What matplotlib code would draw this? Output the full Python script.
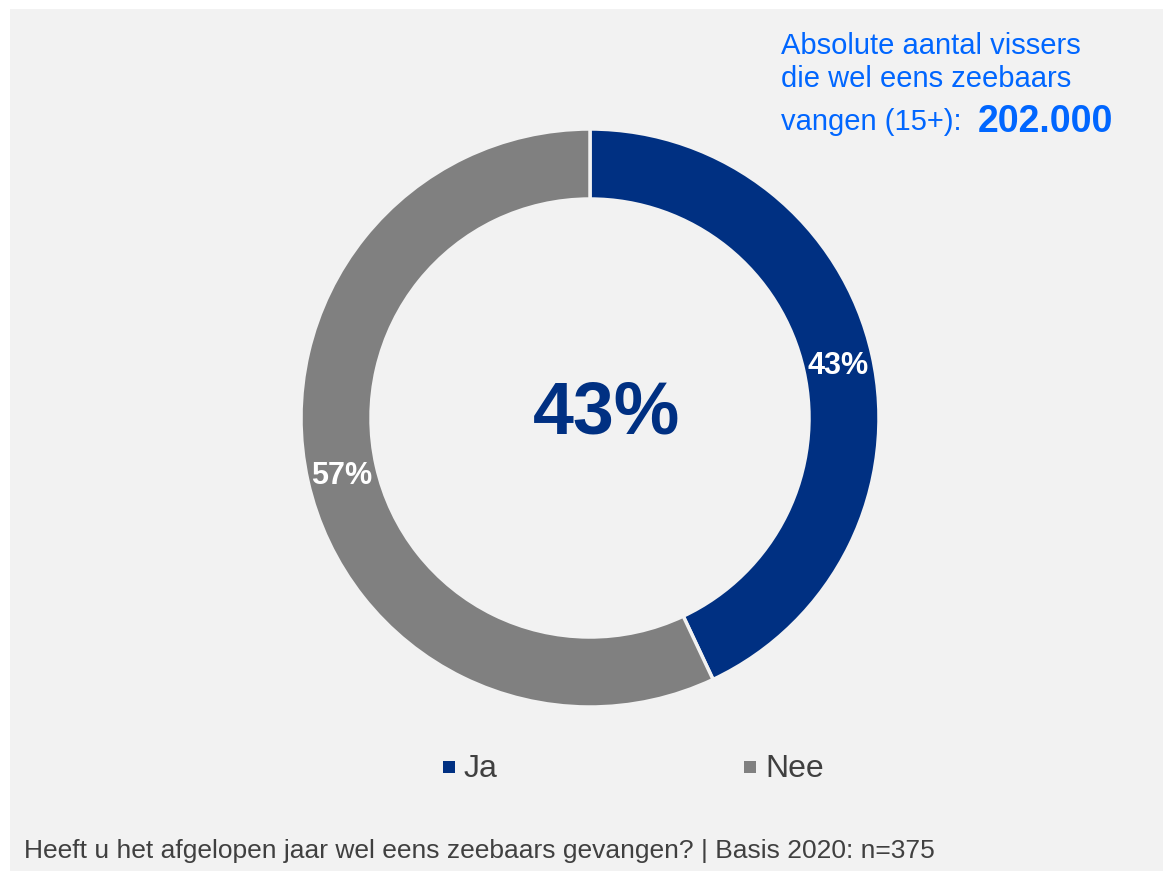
import matplotlib
matplotlib.use("Agg")
import matplotlib.pyplot as plt
from matplotlib.patches import Rectangle

plt.rcParams['font.family'] = ['Liberation Sans', 'DejaVu Sans']

# Survey answers
categories = ["Ja", "Nee"]
shares = [43, 57]
colors = ["#003082", "#808080"]
headline = "43%"
absolute_count = "202.000"
question = "Heeft u het afgelopen jaar wel eens zeebaars gevangen? | Basis 2020: n=375"

W, H = 1163, 871
fig = plt.figure(figsize=(W / 100, H / 100), dpi=100)
fig.patch.set_facecolor("white")

# light grey panel
fig.patches.append(Rectangle((10 / W, 0), 1 - 10 / W, 1 - 9 / H,
                             transform=fig.transFigure, facecolor="#f2f2f2",
                             edgecolor="none", zorder=-10))

# donut
cx, cy, half = 590, 418, 300
ax = fig.add_axes([(cx - half) / W, (H - cy - half) / H, 2 * half / W, 2 * half / H])
ax.set_zorder(5)
R = 289 / half
ring = 70 / half
wedges, texts, autotexts = ax.pie(
    shares, colors=colors, startangle=90, counterclock=False, radius=R,
    autopct="%d%%", pctdistance=(R - ring / 2) / R,
    wedgeprops=dict(width=ring, edgecolor="#f2f2f2", linewidth=2.5),
    textprops=dict(color="white", fontsize=22, fontweight="bold"))
for t in autotexts:
    x, y = t.get_position()
    t.set_position((x, y - 3 / half))
ax.set_xlim(-1, 1)
ax.set_ylim(-1, 1)
ax.set_aspect("equal")
ax.axis("off")

ax.text(17 / half, 4 / half, headline, ha="center", va="center",
        fontsize=53, fontweight="bold", color="#003082")

# legend
for xm, label, col in zip([449, 750], categories, colors):
    fig.patches.append(Rectangle(((xm - 6) / W, 1 - (767 + 6) / H), 12 / W, 12 / H,
                                 transform=fig.transFigure, facecolor=col,
                                 edgecolor="none"))
    fig.text((xm + 15) / W, 1 - 769 / H, label, ha="left", va="center",
             fontsize=23, color="#404040")

# annotation in the top right
blue = "#0066ff"
fig.text(781 / W, 1 - 46 / H, "Absolute aantal vissers", ha="left", va="center",
         fontsize=21, color=blue)
fig.text(781 / W, 1 - 79 / H, "die wel eens zeebaars", ha="left", va="center",
         fontsize=21, color=blue)
fig.text(781 / W, 1 - 122 / H, "vangen (15+):", ha="left", va="center",
         fontsize=21, color=blue)
fig.text(978 / W, 1 - 122 / H, absolute_count, ha="left", va="center",
         fontsize=27, fontweight="bold", color=blue)

# footnote
fig.text(24 / W, 1 - 851 / H, question, ha="left", va="center",
         fontsize=19, color="#404040")

fig.savefig("out.png", dpi=100, facecolor=fig.get_facecolor())
